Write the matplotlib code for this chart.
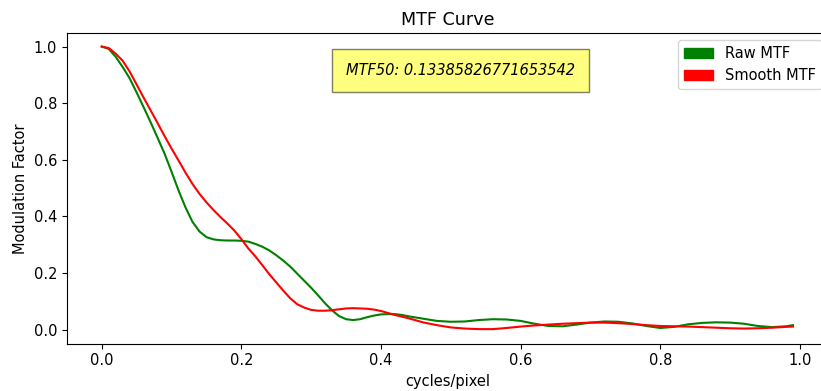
import matplotlib
matplotlib.use("Agg")
import matplotlib.pyplot as plt
import matplotlib.patches as mpatches

# spatial frequency samples (cycles/pixel)
freq = [0.00, 0.01, 0.02, 0.03, 0.04, 0.05, 0.06, 0.07, 0.08, 0.09,
        0.10, 0.11, 0.12, 0.13, 0.14, 0.15, 0.16, 0.17, 0.18, 0.19,
        0.20, 0.21, 0.22, 0.23, 0.24, 0.25, 0.26, 0.27, 0.28, 0.29,
        0.30, 0.31, 0.32, 0.33, 0.34, 0.35, 0.36, 0.37, 0.38, 0.39,
        0.40, 0.41, 0.42, 0.43, 0.44, 0.46, 0.48, 0.50, 0.52, 0.54,
        0.56, 0.58, 0.60, 0.62, 0.64, 0.66, 0.68, 0.70, 0.72, 0.74,
        0.76, 0.78, 0.80, 0.82, 0.84, 0.86, 0.88, 0.90, 0.92, 0.94,
        0.96, 0.98, 0.99]

raw_mtf = [1.000, 0.992, 0.964, 0.928, 0.888, 0.838, 0.786, 0.733, 0.678, 0.622,
           0.558, 0.492, 0.432, 0.381, 0.347, 0.327, 0.319, 0.316, 0.315, 0.315,
           0.314, 0.311, 0.303, 0.293, 0.280, 0.263, 0.244, 0.223, 0.198, 0.173,
           0.148, 0.121, 0.093, 0.068, 0.048, 0.037, 0.034, 0.037, 0.044, 0.050,
           0.054, 0.055, 0.055, 0.052, 0.047, 0.039, 0.031, 0.028, 0.029, 0.034,
           0.037, 0.036, 0.031, 0.021, 0.013, 0.012, 0.018, 0.025, 0.029, 0.028,
           0.022, 0.013, 0.006, 0.010, 0.019, 0.024, 0.026, 0.025, 0.021, 0.013,
           0.009, 0.012, 0.016]

smooth_mtf = [1.000, 0.995, 0.975, 0.950, 0.912, 0.866, 0.820, 0.775, 0.730, 0.684,
              0.640, 0.598, 0.555, 0.515, 0.480, 0.450, 0.423, 0.398, 0.375, 0.350,
              0.320, 0.287, 0.259, 0.228, 0.196, 0.167, 0.138, 0.111, 0.090, 0.078,
              0.070, 0.067, 0.067, 0.069, 0.072, 0.075, 0.076, 0.075, 0.074, 0.071,
              0.066, 0.059, 0.052, 0.046, 0.040, 0.026, 0.016, 0.008, 0.004, 0.002,
              0.002, 0.006, 0.011, 0.015, 0.018, 0.021, 0.023, 0.025, 0.025, 0.023,
              0.020, 0.016, 0.013, 0.012, 0.011, 0.009, 0.007, 0.005, 0.004, 0.005,
              0.007, 0.010, 0.011]

mtf50 = 0.13385826771653542

W, H = 821, 391
fs = 10.5
plt.rcParams.update({"font.size": fs, "xtick.labelsize": fs, "ytick.labelsize": fs,
                     "axes.labelsize": fs, "legend.fontsize": fs})

fig = plt.figure(figsize=(W / 100, H / 100), dpi=100)
ax = fig.add_axes([67 / W, (H - 343.7) / H, (829 - 67) / W, (343.7 - 33) / H])

ax.plot(freq, raw_mtf, color="green", linewidth=1.5)
ax.plot(freq, smooth_mtf, color="red", linewidth=1.5)

ax.set_xlim(-0.0497, 1.0416)
ax.set_ylim(-0.0495, 1.048)
ax.set_xticks([0.0, 0.2, 0.4, 0.6, 0.8, 1.0])
ax.set_yticks([0.0, 0.2, 0.4, 0.6, 0.8, 1.0])

ax.set_title("MTF Curve", fontsize=12.6)
ax.set_xlabel("cycles/pixel")
ax.set_ylabel("Modulation Factor")

ax.text(0.35, 0.9, "MTF50: " + str(mtf50), style="italic",
        bbox={"facecolor": "yellow", "alpha": 0.5, "pad": 10})

handles = [mpatches.Patch(color="green", label="Raw MTF"),
           mpatches.Patch(color="red", label="Smooth MTF")]
ax.legend(handles=handles, loc="upper right")

fig.savefig("out.png", dpi=100)
